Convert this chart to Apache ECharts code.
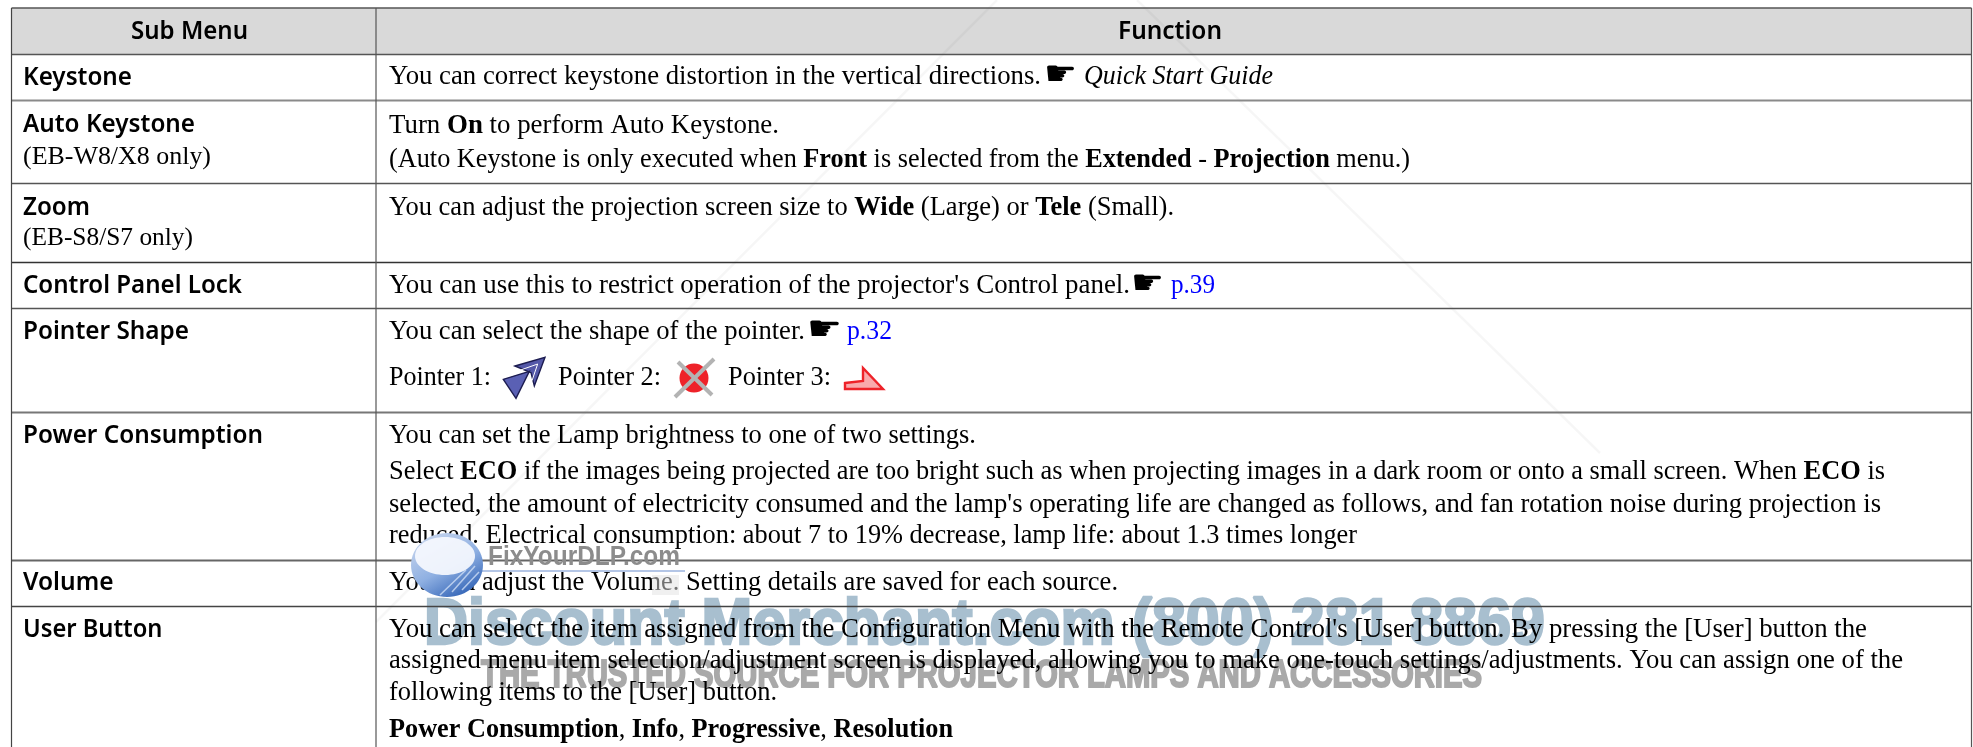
<!DOCTYPE html>
<html><head><meta charset="utf-8">
<style>html,body{margin:0;padding:0;background:#fff}#c{width:1973px;height:747px}</style>
<script src="https://cdn.jsdelivr.net/npm/echarts@6/dist/echarts.min.js"></script>
</head><body><div id="c"></div>
<script>
// ---------- content ----------
const columnHeaders = ['Sub Menu', 'Function'];
const subMenus = ['Keystone', 'Auto Keystone', 'Zoom', 'Control Panel Lock', 'Pointer Shape', 'Power Consumption', 'Volume', 'User Button'];
const subMenuNotes = ['(EB-W8/X8 only)', '(EB-S8/S7 only)'];
const handGlyph = '\u261B';
// run format: [text, style]  r = regular, b = bold, i = italic, l = link
const keystoneRuns = [['You can correct keystone distortion in the vertical directions.', 'r']];
const keystoneRef = [['Quick Start Guide', 'i']];
const autoRuns1 = [['Turn ', 'r'], ['On', 'b'], [' to perform Auto Keystone.', 'r']];
const autoRuns2 = [['(Auto Keystone is only executed when ', 'r'], ['Front', 'b'], [' is selected from the ', 'r'], ['Extended', 'b'], [' - ', 'r'], ['Projection', 'b'], [' menu.)', 'r']];
const zoomRuns = [['You can adjust the projection screen size to ', 'r'], ['Wide', 'b'], [' (Large) or ', 'r'], ['Tele', 'b'], [' (Small).', 'r']];
const lockRuns = [["You can use this to restrict operation of the projector's Control panel.", 'r']];
const lockRef = [['p.39', 'l']];
const shapeRuns = [['You can select the shape of the pointer.', 'r']];
const shapeRef = [['p.32', 'l']];
const pointerLabels = ['Pointer 1:', 'Pointer 2:', 'Pointer 3:'];
const powerRuns1 = [['You can set the Lamp brightness to one of two settings.', 'r']];
const powerRuns2 = [['Select ', 'r'], ['ECO', 'b'], [' if the images being projected are too bright such as when projecting images in a dark room or onto a small screen. When ', 'r'], ['ECO', 'b'], [' is', 'r']];
const powerRuns3 = [["selected, the amount of electricity consumed and the lamp's operating life are changed as follows, and fan rotation noise during projection is", 'r']];
const powerRuns4 = [['reduced. Electrical consumption: about 7 to 19% decrease, lamp life: about 1.3 times longer', 'r']];
const volumeRuns = [['You can adjust the Volume. Setting details are saved for each source.', 'r']];
const userRuns1 = [["You can select the item assigned from the Configuration Menu with the Remote Control's [User] button. By pressing the [User] button the", 'r']];
const userRuns2 = [['assigned menu item selection/adjustment screen is displayed, allowing you to make one-touch settings/adjustments. You can assign one of the', 'r']];
const userRuns3 = [['following items to the [User] button.', 'r']];
const userRuns4 = [['Power Consumption', 'b'], [', ', 'r'], ['Info', 'b'], [', ', 'r'], ['Progressive', 'b'], [', ', 'r'], ['Resolution', 'b']];
const watermarkMain = 'Discount Merchant.com (800) 281 8869';
const watermarkSub = 'THE TRUSTED SOURCE FOR PROJECTOR LAMPS AND ACCESSORIES';
const watermarkBrand = 'FixYourDLP.com';

// ---------- styles ----------
const runFonts = {
  r: '27px "Liberation Serif"', l: '27px "Liberation Serif"',
  b: 'bold 27px "Liberation Serif"',
  i: 'italic 27px "Liberation Serif"',
  h: '600 26px "Noto Sans"',
  n: '25px "Liberation Serif"',
  g: '34px "DejaVu Sans"',
  wm: 'bold 64px "Liberation Sans"',
  ws: 'bold 38px "Liberation Sans"',
  wb: 'bold 27px "Liberation Sans"'
};
const INK = '#000000';

const measureCtx = document.createElement('canvas').getContext('2d');
function widthOf(runs) {
  return runs.reduce((s, r) => { measureCtx.font = runFonts[r[1]]; return s + measureCtx.measureText(r[0]).width; }, 0);
}
const textEls = [];
function line(runs, x, endX, y) {
  const total = widthOf(runs), k = (endX - x) / total;
  let cx = x;
  runs.forEach(r => {
    measureCtx.font = runFonts[r[1]];
    const w = measureCtx.measureText(r[0]).width * k;
    textEls.push({ type: 'text', silent: true, x: cx, y: y, scaleX: k, scaleY: 1, z: 10,
      style: { text: r[0], font: runFonts[r[1]], fill: r[1] === 'l' ? '#0000ff' : INK, textAlign: 'left', textVerticalAlign: 'middle' } });
    cx += w;
  });
}
function fitted(text, fontKey, x, endX, y, z, style) {
  measureCtx.font = runFonts[fontKey];
  return { type: 'text', silent: true, x: x, y: y, scaleX: (endX - x) / measureCtx.measureText(text).width, z: z,
    style: Object.assign({ text: text, font: runFonts[fontKey], textAlign: 'left', textVerticalAlign: 'middle' }, style) };
}

// ---------- table geometry ----------
const L = 11.5, M = 376, R = 1971.5, T = 8, B = 747;
const rowLines = [[54.5, 1.5, '#555'], [100.5, 2, '#8a8a8a'], [183.5, 1.5, '#555'], [262.5, 1.5, '#333'], [308.5, 1.5, '#555'], [412.5, 2, '#777'], [560.5, 2, '#666'], [606.5, 1.5, '#444']];

const shapes = [];
// faint diagonal page marks
[[1137, 0, 1600, 453], [997, 0, 376, 622]].forEach(p => shapes.push({ type: 'line', silent: true, z: 2, shape: { x1: p[0], y1: p[1], x2: p[2], y2: p[3] }, style: { stroke: 'rgba(0,0,0,0.035)', lineWidth: 2.5 } }));
shapes.push({ type: 'rect', silent: true, z: 1, shape: { x: L, y: T, width: R - L, height: 54.5 - T }, style: { fill: '#d9d9d9' } });
// watermark under text
shapes.push(fitted(watermarkMain, 'wm', 424, 1545, 626, 3, { fill: '#a8bfcf', stroke: '#a8bfcf', lineWidth: 2.5 }));
shapes.push(fitted(watermarkSub, 'ws', 481, 1482, 677, 3, { fill: '#a9a9a9', stroke: '#a9a9a9', lineWidth: 2 }));
rowLines.forEach(l => shapes.push({ type: 'line', silent: true, z: 5, shape: { x1: L, y1: l[0], x2: R, y2: l[0] }, style: { stroke: l[2], lineWidth: l[1] } }));
shapes.push({ type: 'line', silent: true, z: 5, shape: { x1: L, y1: T, x2: R, y2: T }, style: { stroke: '#555', lineWidth: 1.5 } });
[[L, '#444'], [M, '#555'], [R, '#555']].forEach(v => shapes.push({ type: 'line', silent: true, z: 5, shape: { x1: v[0], y1: T, x2: v[0], y2: B }, style: { stroke: v[1], lineWidth: 1.2 } }));

// ---------- text ----------
line([[columnHeaders[0], 'h']], 131, 248, 32);
line([[columnHeaders[1], 'h']], 1118, 1222, 32);
const subEnds = [132, 195, 90, 242, 189, 263, 113.5, 162.5];
const subYs = [78, 125, 208, 286, 332, 436, 583, 630];
subMenus.forEach((s, i) => line([[s, 'h']], 23, subEnds[i], subYs[i]));
line([[subMenuNotes[0], 'n']], 23, 211, 157);
line([[subMenuNotes[1], 'n']], 23, 193, 238);

const TX = 389;
line(keystoneRuns, TX, 1041, 77);
line([[handGlyph, 'g']], 1044, 1077, 76);
line(keystoneRef, 1084, 1273, 77);
line(autoRuns1, TX, 779, 126);
line(autoRuns2, TX, 1410, 160);
line(zoomRuns, TX, 1174, 208);
line(lockRuns, TX, 1130, 286);
line([[handGlyph, 'g']], 1131, 1164, 285);
line(lockRef, 1171, 1215, 286);
line(shapeRuns, TX, 805, 332);
line([[handGlyph, 'g']], 807, 842, 331);
line(shapeRef, 847, 892, 332);
line([[pointerLabels[0], 'r']], TX, 491, 378);
line([[pointerLabels[1], 'r']], 558, 661, 378);
line([[pointerLabels[2], 'r']], 728, 831, 378);
line(powerRuns1, TX, 976, 436);
line(powerRuns2, TX, 1885, 472);
line(powerRuns3, TX, 1881, 505);
line(powerRuns4, TX, 1357, 536);
line(volumeRuns, TX, 1118, 583);
line(userRuns1, TX, 1867, 630);
line(userRuns2, TX, 1903, 661);
line(userRuns3, TX, 777, 693);
line(userRuns4, TX, 953, 730);

// ---------- pointer icons ----------
const pts = (o, list) => list.map(p => [o[0] + p[0] / 3, o[1] + p[1] / 3]);
const ICON1 = [490, 350];
shapes.push({ type: 'polygon', silent: true, z: 12, shape: { points: pts(ICON1, [[75, 48], [165, 22], [133, 108], [123, 68]]) }, style: { fill: '#5458a8', stroke: '#1c1c50', lineWidth: 1.4 } });
shapes.push({ type: 'polygon', silent: true, z: 13, shape: { points: pts(ICON1, [[40, 88], [118, 64], [78, 145]]) }, style: { fill: '#5a60b4', stroke: '#1c1c50', lineWidth: 1.4 } });
shapes.push({ type: 'polyline', silent: true, z: 14, shape: { points: pts(ICON1, [[92, 60], [143, 42], [126, 92]]) }, style: { stroke: '#ffffff', lineWidth: 1, fill: 'none' } });
shapes.push({ type: 'circle', silent: true, z: 12, shape: { cx: 694, cy: 378, r: 14.5 }, style: { fill: '#ee2229' } });
[[678, 362, 712, 395], [714, 359, 675, 397]].forEach(p => shapes.push({ type: 'line', silent: true, z: 13, shape: { x1: p[0], y1: p[1], x2: p[2], y2: p[3] }, style: { stroke: '#b3b3b3', lineWidth: 4 } }));
shapes.push({ type: 'polygon', silent: true, z: 12, shape: { points: [[845, 383], [863, 381], [863, 368], [883, 389], [845, 389]] }, style: { fill: '#f9a9ac', stroke: '#ee2229', lineWidth: 2.4 } });

// ---------- brand overlay ----------
shapes.push(fitted(watermarkBrand, 'wb', 488, 680, 558, 16, { fill: '#8c8c8c' }));
shapes.push({ type: 'line', silent: true, z: 16, shape: { x1: 477, y1: 571, x2: 685, y2: 571 }, style: { stroke: '#b4c6e6', lineWidth: 2 } });
shapes.push({ type: 'rect', silent: true, z: 16, shape: { x: 652, y: 575, width: 27, height: 20 }, style: { fill: 'rgba(225,225,225,0.5)' } });
shapes.push({ type: 'ellipse', silent: true, z: 17, shape: { cx: 447, cy: 565, rx: 36, ry: 32 }, style: { fill: { type: 'linear', x: 0.2, y: 0, x2: 0.7, y2: 1, colorStops: [{ offset: 0, color: '#c8d6ee' }, { offset: 0.55, color: '#8fb0e2' }, { offset: 1, color: '#3566b8' }] } } });
shapes.push({ type: 'ellipse', silent: true, z: 18, shape: { cx: 445, cy: 556, rx: 30, ry: 19 }, style: { fill: 'rgba(246,248,254,0.92)' } });
[[452, 592, 475, 566], [462, 590, 479, 572], [440, 595, 466, 570]].forEach(p => shapes.push({ type: 'line', silent: true, z: 19, shape: { x1: p[0], y1: p[1], x2: p[2], y2: p[3] }, style: { stroke: 'rgba(215,228,248,0.75)', lineWidth: 1.5 } }));

const chart = echarts.init(document.getElementById('c'), null, { renderer: 'canvas', width: 1973, height: 747 });
chart.setOption({ backgroundColor: '#ffffff', animation: false, graphic: { elements: shapes.concat(textEls) } });
</script></body></html>
